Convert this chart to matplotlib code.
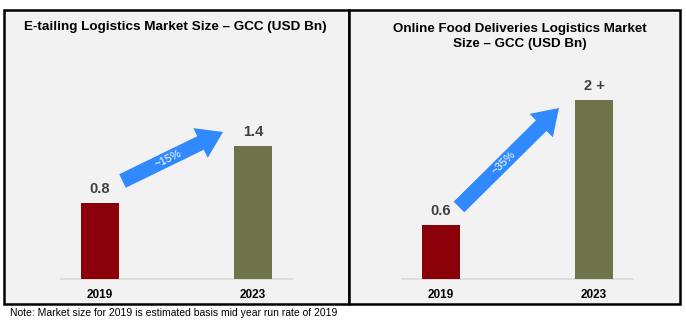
import matplotlib
matplotlib.use("Agg")
import math
import matplotlib.pyplot as plt
from matplotlib.patches import Rectangle, FancyArrow

plt.rcParams['font.family'] = ['Liberation Sans', 'DejaVu Sans']

categories = ["2019", "2023"]
etail_values = [0.8, 1.4]
etail_labels = ["0.8", "1.4"]
food_values = [0.6, 2.0]
food_labels = ["0.6", "2 +"]
bar_colors = ["#8B0008", "#6E734A"]
title_left = "E-tailing Logistics Market Size \u2013 GCC (USD Bn)"
title_right = "Online Food Deliveries Logistics Market\nSize \u2013 GCC (USD Bn)"
cagr_left = "~15%"
cagr_right = "~35%"
note = "Note: Market size for 2019 is estimated basis mid year run rate of 2019"

W, H = 686, 323
fig = plt.figure(figsize=(W / 100, H / 100), dpi=100)
fig.patch.set_facecolor("white")

def fx(px):
    return px / W

def fy(py):
    return 1 - py / H

BG = "#F2F2F2"
for x0, x1 in [(4, 349), (349, 680)]:
    fig.add_artist(Rectangle((fx(x0), fy(304)), fx(x1) - fx(x0), fy(10) - fy(304),
                             transform=fig.transFigure, facecolor=BG,
                             edgecolor="black", linewidth=1.8, zorder=0))

def make_panel(xl, xr, ymax, values, labels):
    ax = fig.add_axes([fx(xl), fy(279), fx(xr) - fx(xl), fy(60) - fy(279)])
    ax.set_facecolor("none")
    x = range(len(categories))
    ax.bar(x, values, width=0.25, color=bar_colors, zorder=3)
    for xi, v, lab in zip(x, values, labels):
        ax.annotate(lab, (xi, v), xytext=(0, 5), textcoords="offset points",
                    ha="center", va="bottom", fontsize=10.5, fontweight="bold",
                    color="#404040")
    ax.set_xlim(-0.255, 1.255)
    ax.set_ylim(0, ymax)
    ax.set_xticks(list(x))
    ax.set_xticklabels(categories, fontsize=8.5, fontweight="bold", color="black")
    ax.tick_params(axis="x", length=0, pad=7)
    ax.set_yticks([])
    for s in ["top", "right", "left"]:
        ax.spines[s].set_visible(False)
    ax.spines["bottom"].set_color("#D9D9D9")
    ax.spines["bottom"].set_linewidth(1.2)
    return ax

make_panel(61, 292, 2.305, etail_values, etail_labels)
make_panel(402, 633, 2.45, food_values, food_labels)

fig.text(fx(175.5), fy(27), title_left, ha="center", va="center",
         fontsize=9.7, fontweight="bold", color="black")
fig.text(fx(520), fy(36.5), title_right, ha="center", va="center",
         fontsize=9.6, fontweight="bold", color="black", linespacing=1.25)

ARROW = "#3089FF"

def draw_arrow(x0, y0, x1, y1, label):
    X0, Y0, X1, Y1 = x0, H - y0, x1, H - y1
    arr = FancyArrow(X0, Y0, X1 - X0, Y1 - Y0, width=15, head_width=33,
                     head_length=25, length_includes_head=True,
                     transform=None, facecolor=ARROW, edgecolor="none", zorder=5)
    fig.add_artist(arr)
    ang = math.degrees(math.atan2(Y1 - Y0, X1 - X0))
    frac = 0.45
    tx = X0 + (X1 - X0) * frac
    ty = Y0 + (Y1 - Y0) * frac
    fig.text(tx / W, ty / H, label, ha="center", va="center", rotation=ang,
             rotation_mode="anchor", fontsize=8, color="white", zorder=6)

draw_arrow(122.5, 181, 223, 132, cagr_left)
draw_arrow(459, 207, 559, 108, cagr_right)

fig.text(fx(10), fy(313), note, ha="left", va="center", fontsize=7.5, color="black")

fig.savefig("out.png", dpi=100, facecolor="white")
